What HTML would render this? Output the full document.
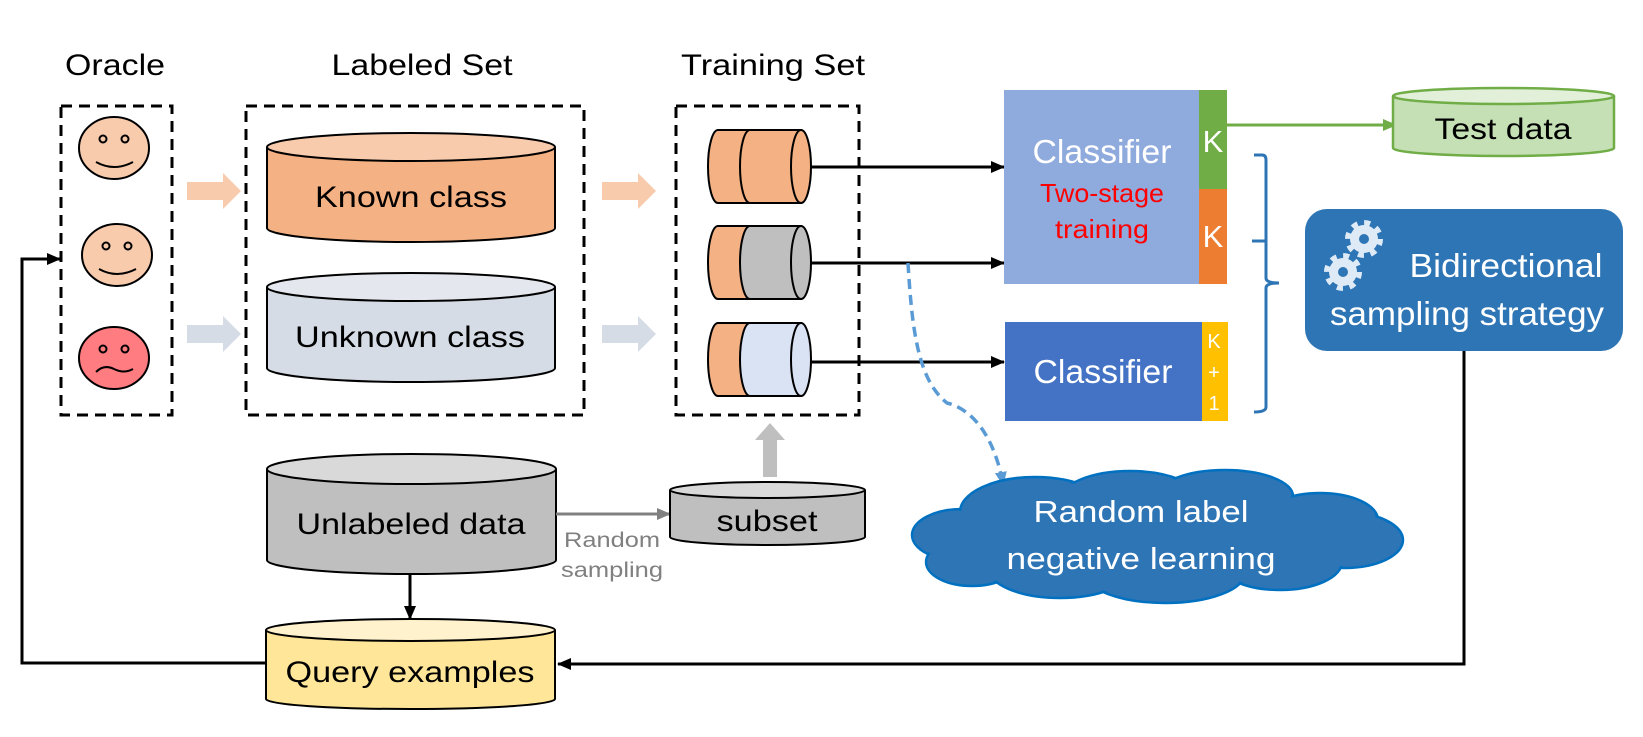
<!DOCTYPE html>
<html><head><meta charset="utf-8"><style>html,body{margin:0;padding:0;background:#fff}svg{display:block}</style></head>
<body>
<svg width="1643" height="737" viewBox="0 0 1643 737" xmlns="http://www.w3.org/2000/svg" font-family="Liberation Sans, sans-serif">
<defs>
<marker id="ab" markerWidth="14" markerHeight="12" refX="13" refY="6" orient="auto" markerUnits="userSpaceOnUse"><path d="M0,0 L14,6 L0,12 z" fill="#000"/></marker>
<marker id="ag" markerWidth="14" markerHeight="12" refX="13" refY="6" orient="auto" markerUnits="userSpaceOnUse"><path d="M0,0 L14,6 L0,12 z" fill="#70AD47"/></marker>
<marker id="agr" markerWidth="14" markerHeight="12" refX="13" refY="6" orient="auto" markerUnits="userSpaceOnUse"><path d="M0,0 L14,6 L0,12 z" fill="#808080"/></marker>
<marker id="abl" markerWidth="14" markerHeight="12" refX="12" refY="6" orient="auto" markerUnits="userSpaceOnUse"><path d="M0,0 L14,6 L0,12 z" fill="#5B9BD5"/></marker>
</defs>

<text x="115" y="75" font-size="30" text-anchor="middle" textLength="100" lengthAdjust="spacingAndGlyphs">Oracle</text>
<text x="422" y="75" font-size="30" text-anchor="middle" textLength="181" lengthAdjust="spacingAndGlyphs">Labeled Set</text>
<text x="773" y="75" font-size="30" text-anchor="middle" textLength="184" lengthAdjust="spacingAndGlyphs">Training Set</text>

<g fill="none" stroke="#000" stroke-width="3" stroke-dasharray="11,7">
<rect x="61" y="106" width="111" height="309"/>
<rect x="246" y="106" width="338" height="309"/>
<rect x="676" y="106" width="183" height="309"/>
</g>

<g stroke="#000" stroke-width="2">
<ellipse cx="114" cy="148" rx="35" ry="31" fill="#F8CBAD"/>
<circle cx="103" cy="139" r="3.5" fill="none"/><circle cx="125" cy="139" r="3.5" fill="none"/>
<path d="M96,162 Q114,172 133,162" fill="none"/>
<ellipse cx="117" cy="255" rx="35" ry="31" fill="#F8CBAD"/>
<circle cx="106" cy="246" r="3.5" fill="none"/><circle cx="128" cy="246" r="3.5" fill="none"/>
<path d="M99,269 Q117,279 136,269" fill="none"/>
<ellipse cx="114" cy="358" rx="35" ry="31" fill="#FF7C80"/>
<circle cx="103" cy="349" r="3.5" fill="none"/><circle cx="125" cy="349" r="3.5" fill="none"/>
<path d="M96,372 Q104,364 114,369 Q124,374 133,369" fill="none"/>
</g>

<polygon points="187,182 223,182 223,173 241,191 223,209 223,200 187,200" fill="#F8CBAD"/>
<polygon points="187,325 223,325 223,316 241,334 223,352 223,343 187,343" fill="#D6DCE5"/>
<polygon points="602,182 638,182 638,173 656,191 638,209 638,200 602,200" fill="#F8CBAD"/>
<polygon points="602,325 638,325 638,316 656,334 638,352 638,343 602,343" fill="#D6DCE5"/>

<g stroke="#000" stroke-width="2">
<path d="M267,147 V228 A144,14 0 0 0 555,228 V147" fill="#F4B183"/>
<ellipse cx="411" cy="147" rx="144" ry="14" fill="#F8CBAD"/>
<path d="M267,287 V368 A144,14 0 0 0 555,368 V287" fill="#D6DCE5"/>
<ellipse cx="411" cy="287" rx="144" ry="14" fill="#E4E8EE"/>
</g>
<text x="411" y="207" font-size="30" text-anchor="middle" textLength="192" lengthAdjust="spacingAndGlyphs">Known class</text>
<text x="410" y="347" font-size="30" text-anchor="middle" textLength="230" lengthAdjust="spacingAndGlyphs">Unknown class</text>

<g stroke="#000" stroke-width="2">
<g transform="translate(0,130)">
<path d="M750,0 H718 A10,36.5 0 0 0 718,73 H750 z" fill="#F4B183"/>
<path d="M750,0 H801 V73 H750 A10,36.5 0 0 1 750,0 z" fill="#F4B183"/>
<ellipse cx="801" cy="36.5" rx="10" ry="36.5" fill="#F4B183"/>
</g>
<g transform="translate(0,226)">
<path d="M750,0 H718 A10,36.5 0 0 0 718,73 H750 z" fill="#F4B183"/>
<path d="M750,0 H801 V73 H750 A10,36.5 0 0 1 750,0 z" fill="#BFBFBF"/>
<ellipse cx="801" cy="36.5" rx="10" ry="36.5" fill="#BFBFBF"/>
</g>
<g transform="translate(0,323)">
<path d="M750,0 H718 A10,36.5 0 0 0 718,73 H750 z" fill="#F4B183"/>
<path d="M750,0 H801 V73 H750 A10,36.5 0 0 1 750,0 z" fill="#DAE3F3"/>
<ellipse cx="801" cy="36.5" rx="10" ry="36.5" fill="#DAE3F3"/>
</g>
</g>

<g stroke="#000" stroke-width="3" marker-end="url(#ab)">
<line x1="811" y1="167" x2="1004" y2="167"/>
<line x1="811" y1="263" x2="1004" y2="263"/>
<line x1="811" y1="362" x2="1004" y2="362"/>
</g>

<rect x="1004" y="90" width="196" height="194" fill="#8FAADC"/>
<rect x="1199" y="90" width="28" height="99" fill="#70AD47"/>
<rect x="1199" y="189" width="28" height="95" fill="#ED7D31"/>
<text x="1102" y="163" font-size="33" fill="#fff" text-anchor="middle" textLength="139" lengthAdjust="spacingAndGlyphs">Classifier</text>
<text x="1102" y="202" font-size="26" fill="#FF0000" text-anchor="middle" textLength="124" lengthAdjust="spacingAndGlyphs">Two-stage</text>
<text x="1102" y="238" font-size="26" fill="#FF0000" text-anchor="middle" textLength="94" lengthAdjust="spacingAndGlyphs">training</text>
<text x="1213" y="152" font-size="31" fill="#fff" text-anchor="middle">K</text>
<text x="1213" y="247" font-size="31" fill="#fff" text-anchor="middle">K</text>

<rect x="1005" y="322" width="198" height="99" fill="#4472C4"/>
<rect x="1202" y="322" width="26" height="99" fill="#FFC000"/>
<text x="1103" y="383" font-size="33" fill="#fff" text-anchor="middle" textLength="139" lengthAdjust="spacingAndGlyphs">Classifier</text>
<text x="1214" y="348" font-size="20" fill="#fff" text-anchor="middle">K</text>
<text x="1214" y="379" font-size="20" fill="#fff" text-anchor="middle">+</text>
<text x="1214" y="410" font-size="20" fill="#fff" text-anchor="middle">1</text>

<line x1="1227" y1="125" x2="1396" y2="125" stroke="#70AD47" stroke-width="3" marker-end="url(#ag)"/>
<g stroke="#70AD47" stroke-width="2.5">
<path d="M1393,96 V148 A110.5,8 0 0 0 1614,148 V96" fill="#C5E0B4"/>
<ellipse cx="1503.5" cy="96" rx="110.5" ry="8" fill="#E2F0D9"/>
</g>
<text x="1503" y="139" font-size="30" text-anchor="middle" textLength="137" lengthAdjust="spacingAndGlyphs">Test data</text>

<path d="M1254,155 H1262 Q1266,155 1266,160 V278 Q1266,283 1279,283 Q1266,283 1266,288 V407 Q1266,412 1254,412" fill="none" stroke="#2E75B6" stroke-width="3"/>
<line x1="1252" y1="241" x2="1266" y2="241" stroke="#2E75B6" stroke-width="3"/>

<rect x="1305" y="209" width="318" height="142" rx="22" fill="#2E75B6"/>
<g fill="#DEEBF7">
<circle cx="1364" cy="239" r="14"/>
<circle cx="1364" cy="239" r="16" fill="none" stroke="#DEEBF7" stroke-width="6" stroke-dasharray="6,6.57"/>
<circle cx="1364" cy="239" r="5" fill="#2E75B6"/>
<circle cx="1343" cy="272" r="14"/>
<circle cx="1343" cy="272" r="16" fill="none" stroke="#DEEBF7" stroke-width="6" stroke-dasharray="6,6.57"/>
<circle cx="1343" cy="272" r="5" fill="#2E75B6"/>
</g>
<text x="1506" y="277" font-size="33" fill="#fff" text-anchor="middle" textLength="193" lengthAdjust="spacingAndGlyphs">Bidirectional</text>
<text x="1467" y="325" font-size="33" fill="#fff" text-anchor="middle" textLength="274" lengthAdjust="spacingAndGlyphs">sampling strategy</text>

<polyline points="1464,351 1464,664 558,664" fill="none" stroke="#000" stroke-width="3" marker-end="url(#ab)"/>

<path d="M908,263 C912,330 918,380 947,403 C975,410 995,440 1003,484" fill="none" stroke="#5B9BD5" stroke-width="3.5" stroke-dasharray="10,6" marker-end="url(#abl)"/>

<g fill="#2E75B6" stroke="#0070C0" stroke-width="2.5">
<ellipse cx="962" cy="535" rx="50" ry="26"/>
<ellipse cx="972" cy="562" rx="46" ry="24"/>
<ellipse cx="1035" cy="512" rx="75" ry="35"/>
<ellipse cx="1130" cy="500" rx="70" ry="29"/>
<ellipse cx="1225" cy="496" rx="68" ry="26"/>
<ellipse cx="1320" cy="520" rx="58" ry="27"/>
<ellipse cx="1345" cy="540" rx="58" ry="28"/>
<ellipse cx="1280" cy="562" rx="62" ry="28"/>
<ellipse cx="1165" cy="573" rx="80" ry="30"/>
<ellipse cx="1060" cy="568" rx="72" ry="30"/>
</g>
<g fill="#2E75B6">
<ellipse cx="962" cy="535" rx="48" ry="24"/>
<ellipse cx="972" cy="562" rx="44" ry="22"/>
<ellipse cx="1035" cy="512" rx="73" ry="33"/>
<ellipse cx="1130" cy="500" rx="68" ry="27"/>
<ellipse cx="1225" cy="496" rx="66" ry="24"/>
<ellipse cx="1320" cy="520" rx="56" ry="25"/>
<ellipse cx="1345" cy="540" rx="56" ry="26"/>
<ellipse cx="1280" cy="562" rx="60" ry="26"/>
<ellipse cx="1165" cy="573" rx="78" ry="28"/>
<ellipse cx="1060" cy="568" rx="70" ry="28"/>
<ellipse cx="1150" cy="540" rx="190" ry="40"/>
</g>
<text x="1141" y="522" font-size="31" fill="#fff" text-anchor="middle" textLength="215" lengthAdjust="spacingAndGlyphs">Random label</text>
<text x="1141" y="569" font-size="31" fill="#fff" text-anchor="middle" textLength="269" lengthAdjust="spacingAndGlyphs">negative learning</text>

<g stroke="#000" stroke-width="2">
<path d="M267,469 V560 A144.5,14 0 0 0 556,560 V469" fill="#BFBFBF"/>
<ellipse cx="411.5" cy="469" rx="144.5" ry="15" fill="#D9D9D9"/>
</g>
<text x="411" y="534" font-size="30" text-anchor="middle" textLength="229" lengthAdjust="spacingAndGlyphs">Unlabeled data</text>

<line x1="556" y1="514" x2="670" y2="514" stroke="#808080" stroke-width="3" marker-end="url(#agr)"/>
<text x="612" y="547" font-size="21" fill="#808080" text-anchor="middle" textLength="96" lengthAdjust="spacingAndGlyphs">Random</text>
<text x="612" y="577" font-size="21" fill="#808080" text-anchor="middle" textLength="102" lengthAdjust="spacingAndGlyphs">sampling</text>

<g stroke="#000" stroke-width="2">
<path d="M670,490 V537 A97.5,8 0 0 0 865,537 V490" fill="#BFBFBF"/>
<ellipse cx="767.5" cy="490" rx="97.5" ry="8" fill="#D9D9D9"/>
</g>
<text x="767" y="531" font-size="30" text-anchor="middle" textLength="101" lengthAdjust="spacingAndGlyphs">subset</text>

<polygon points="763,477 763,440 755,440 770,423 785,440 777,440 777,477" fill="#BFBFBF"/>

<line x1="410" y1="575" x2="410" y2="619" stroke="#000" stroke-width="3" marker-end="url(#ab)"/>

<g stroke="#000" stroke-width="2">
<path d="M266,630 V699 A144.5,10 0 0 0 555,699 V630" fill="#FFE699"/>
<ellipse cx="410.5" cy="630" rx="144.5" ry="11" fill="#FFF2CC"/>
</g>
<text x="410" y="682" font-size="30" text-anchor="middle" textLength="249" lengthAdjust="spacingAndGlyphs">Query examples</text>

<polyline points="266,663 22,663 22,259 60,259" fill="none" stroke="#000" stroke-width="3" marker-end="url(#ab)"/>
</svg>
</body></html>
